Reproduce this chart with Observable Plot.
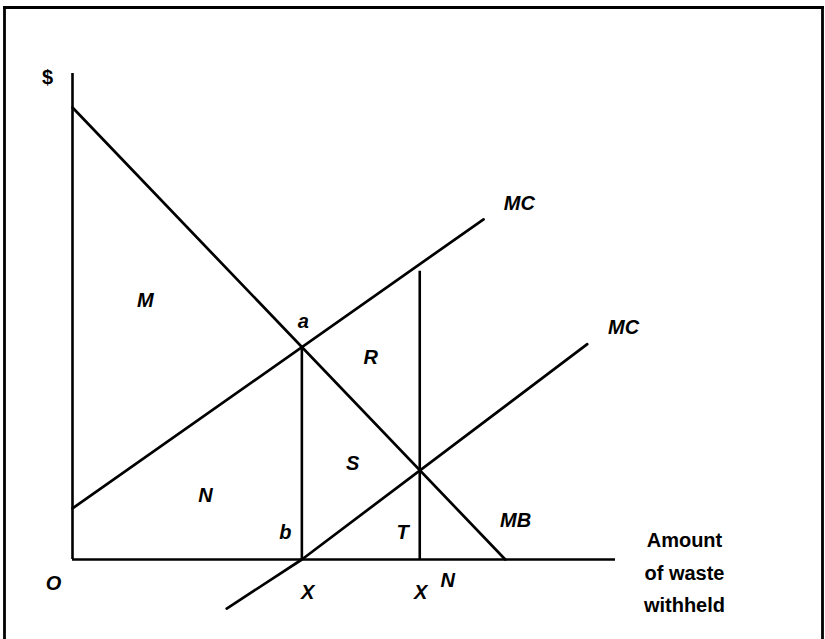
<!DOCTYPE html>
<html><head><meta charset="utf-8">
<script src="https://cdn.jsdelivr.net/npm/d3@7"></script>
<script src="https://cdn.jsdelivr.net/npm/@observablehq/plot@0.6"></script>
<style>body{margin:0;background:#fff}</style>
</head><body><div id="chart"></div>
<script>
// Curves (quantity of waste withheld, $)
const mbCurve = [[0, 93], [79.7, 0]];
const mcCurveHigh = [[0, 10.5], [75.7, 70.0]];
const mcCurveLow = [[28.4, -10.1], [42.24, 0], [94.8, 44.3]];
// Vertical drop lines
const dropX = [42.24, 63.95];
const dropTop = [43.7, 59.3];
// Axis extents
const xAxisEnd = 100;
const yAxisEnd = 100;
// Labels (italic)
const labelText = ["M", "a", "R", "MC", "MC", "S", "N", "b", "T", "MB", "O", "X", "X", "N"];
const labelX = [13.4, 42.5, 54.9, 82.3, 101.5, 51.6, 24.5, 39.2, 60.8, 81.6, -3.5, 43.3, 64.1, 69.1];
const labelY = [53.3, 49.0, 41.6, 73.3, 47.7, 19.75, 13.2, 5.6, 5.6, 8.0, -4.9, -6.8, -6.8, -4.3];
// Upright labels
const uprightText = ["$", "Amount", "of waste", "withheld"];
const uprightX = [-4.6, 112.7, 112.7, 112.7];
const uprightY = [99.2, 3.9, -2.9, -9.5];

const labels = labelText.map((t, i) => ({t, x: labelX[i], y: labelY[i]}));
const titles = uprightText.map((t, i) => ({t, x: uprightX[i], y: uprightY[i]}));
const drops = dropX.map((x, i) => ({x, top: dropTop[i]}));

const chart = Plot.plot({
  width: 825, height: 639,
  marginLeft: 4, marginTop: 7, marginRight: 3, marginBottom: 1,
  x: {domain: [0, 100], range: [72, 615], axis: null},
  y: {domain: [0, 100], range: [559, 73], axis: null},
  style: {fontFamily: "'Liberation Sans', Arial, sans-serif", background: "#fff"},
  marks: [
    Plot.frame({anchor: "left", strokeWidth: 2.8}),
    Plot.frame({anchor: "top", strokeWidth: 2.8}),
    Plot.frame({anchor: "right", strokeWidth: 2.8}),
    Plot.ruleX([0], {y1: 0, y2: yAxisEnd, strokeWidth: 2.6}),
    Plot.ruleY([0], {x1: 0, x2: xAxisEnd, strokeWidth: 2.6}),
    Plot.line(mbCurve, {x: d => d[0], y: d => d[1], strokeWidth: 2.7}),
    Plot.line(mcCurveHigh, {x: d => d[0], y: d => d[1], strokeWidth: 2.7}),
    Plot.line(mcCurveLow, {x: d => d[0], y: d => d[1], strokeWidth: 2.7}),
    Plot.ruleX(drops, {x: "x", y1: 0, y2: "top", strokeWidth: 2.6}),
    Plot.text(labels, {x: "x", y: "y", text: "t", fontSize: 20, fontWeight: "bold", fontStyle: "italic", fill: "#000"}),
    Plot.text(titles, {x: "x", y: "y", text: "t", fontSize: 20, fontWeight: "bold", fill: "#000"})
  ]
});
document.getElementById("chart").append(chart);
</script>
</body></html>
